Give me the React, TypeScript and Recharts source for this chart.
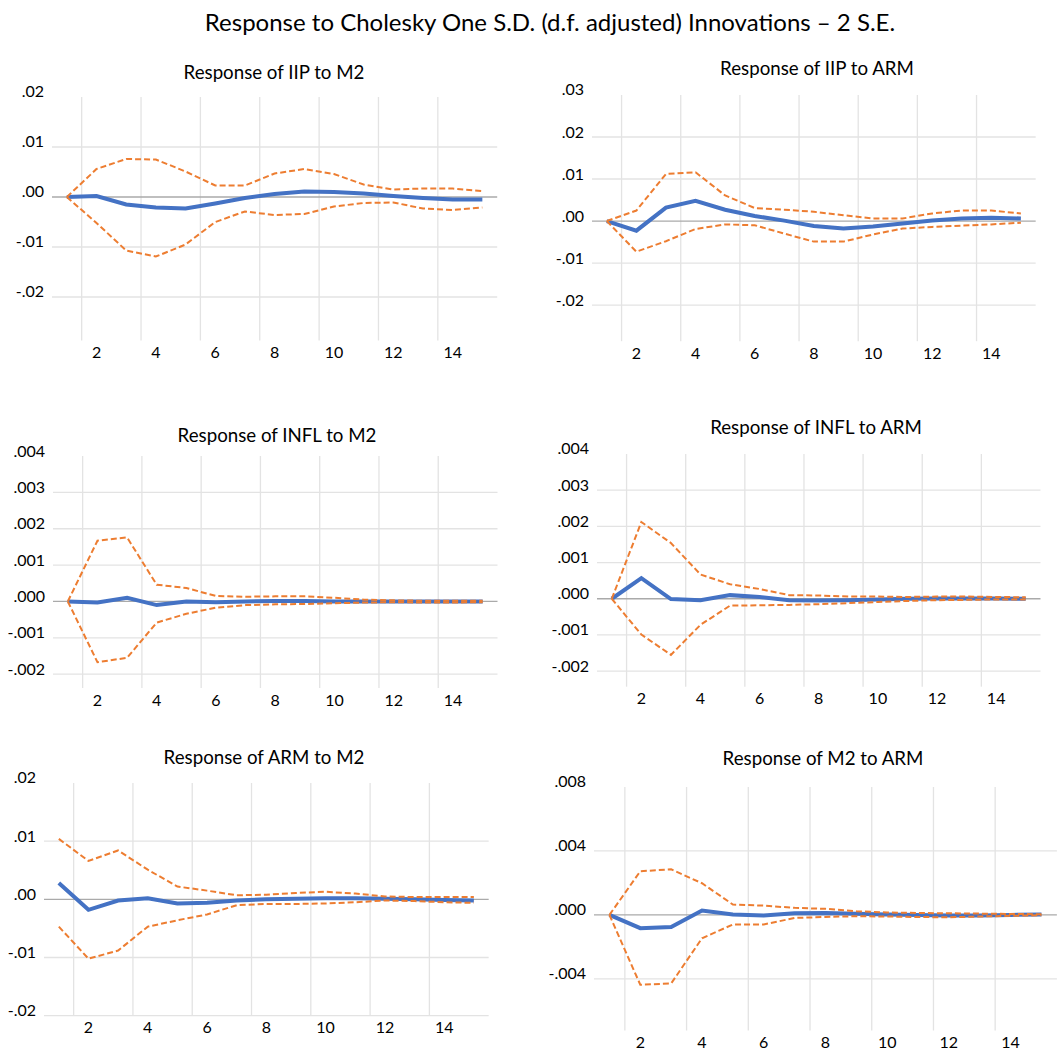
import React from 'react';
import { LineChart, Line, XAxis, YAxis, ReferenceLine } from 'recharts';

// forecast horizon (periods after the shock)
const periods = [1, 2, 3, 4, 5, 6, 7, 8, 9, 10, 11, 12, 13, 14, 15];
const xTicks = [2, 4, 6, 8, 10, 12, 14];

// IIP to M2
const iipM2Resp = [0, 0.0002, -0.0015, -0.0021, -0.0023, -0.0013, -0.0002, 0.0006, 0.0011, 0.001, 0.0007, 0.0002, -0.0002, -0.0005, -0.0005];
const iipM2Upper = [0, 0.0056, 0.0076, 0.0075, 0.0051, 0.0023, 0.0023, 0.0047, 0.0056, 0.0046, 0.0025, 0.0015, 0.0017, 0.0017, 0.0012];
const iipM2Lower = [0, -0.0052, -0.0107, -0.0119, -0.0095, -0.005, -0.0029, -0.0036, -0.0034, -0.0019, -0.0012, -0.0011, -0.0023, -0.0026, -0.0021];

// IIP to ARM
const iipArmResp = [0, -0.0023, 0.0032, 0.0048, 0.0027, 0.0012, 0.0001, -0.0012, -0.0018, -0.0013, -0.0006, 0.0001, 0.0006, 0.0008, 0.0006];
const iipArmUpper = [0, 0.0025, 0.0112, 0.0116, 0.0061, 0.0031, 0.0027, 0.0022, 0.0014, 0.0006, 0.0006, 0.0018, 0.0025, 0.0025, 0.0018];
const iipArmLower = [0, -0.0073, -0.0048, -0.0019, -0.0008, -0.001, -0.003, -0.0049, -0.0049, -0.0032, -0.0018, -0.0014, -0.0011, -0.0008, -0.0004];

// INFL to M2
const inflM2Resp = [0, -0.00003, 0.0001, -0.0001, 0, -0.00002, 0, 0.00001, 0.00001, 0, 0, 0, 0, 0, 0];
const inflM2Upper = [0, 0.00167, 0.00176, 0.00046, 0.00037, 0.00015, 0.00013, 0.00014, 0.00014, 0.0001, 0.00005, 0.00003, 0.00002, 0.00002, 0.00002];
const inflM2Lower = [0, -0.00167, -0.00155, -0.00058, -0.00034, -0.00017, -0.0001, -0.00008, -0.00007, -0.00005, -0.00003, -0.00002, -0.00003, -0.00003, -0.00002];

// INFL to ARM
const inflArmResp = [0, 0.00057, -0.00001, -0.00004, 0.0001, 0.00005, -0.00004, -0.00005, -0.00004, -0.00002, 0, 0.00001, 0.00001, 0.00001, 0];
const inflArmUpper = [0, 0.00212, 0.00154, 0.00067, 0.0004, 0.00027, 0.0001, 0.00009, 0.00006, 0.00006, 0.00005, 0.00006, 0.00006, 0.00005, 0.00004];
const inflArmLower = [0, -0.00099, -0.00155, -0.00072, -0.00019, -0.00018, -0.00017, -0.00015, -0.00012, -0.00009, -0.00006, -0.00004, -0.00003, -0.00002, -0.00002];

// ARM to M2
const armM2Resp = [0.0028, -0.0018, -0.0002, 0.0002, -0.0007, -0.0006, -0.0002, 0, 0.0001, 0.0002, 0.0002, 0.0001, 0, -0.0001, -0.0002];
const armM2Upper = [0.0104, 0.0066, 0.0084, 0.0051, 0.0022, 0.0015, 0.0007, 0.0008, 0.0011, 0.0013, 0.001, 0.0005, 0.0004, 0.0004, 0.0004];
const armM2Lower = [-0.0047, -0.0102, -0.0088, -0.0047, -0.0036, -0.0026, -0.001, -0.0008, -0.0008, -0.0007, -0.0005, -0.0002, -0.0003, -0.0005, -0.0006];

// M2 to ARM
const m2ArmResp = [0, -0.00083, -0.00075, 0.00027, 0.00002, -0.00004, 0.0001, 0.00012, 0.00008, 0.00002, 0, -0.00004, -0.00004, 0, 0.00002];
const m2ArmUpper = [0, 0.00273, 0.00285, 0.00198, 0.00065, 0.00058, 0.00044, 0.00038, 0.00023, 0.00015, 0.00012, 0.0001, 0.00008, 0.00006, 0.00004];
const m2ArmLower = [0, -0.00437, -0.00429, -0.00146, -0.0006, -0.0006, -0.00019, -0.00013, -0.00008, -0.0001, -0.00013, -0.00015, -0.0001, -0.00006, -0.00002];

const BLUE = '#4472C4';
const ORANGE = '#ED7D31';
const FONT = 'Lato, "Open Sans", sans-serif';
const INK = '#000';

const ML = 60, MT = 20, MR = 10, MB = 30;

const panels = [
  { title: 'Response of IIP to M2', tx: 274, ty: 72, plot: [51.8, 96.5, 497, 340], domain: [-0.0287, 0.02], yTicks: [-0.02, -0.01, 0, 0.01, 0.02], digits: 2, resp: iipM2Resp, upper: iipM2Upper, lower: iipM2Lower },
  { title: 'Response of IIP to ARM', tx: 817, ty: 68, plot: [592.3, 94.5, 1036, 340.7], domain: [-0.0286, 0.03], yTicks: [-0.02, -0.01, 0, 0.01, 0.02, 0.03], digits: 2, resp: iipArmResp, upper: iipArmUpper, lower: iipArmLower },
  { title: 'Response of INFL to M2', tx: 277, ty: 435, plot: [52.8, 456.3, 497.3, 688.3], domain: [-0.00238, 0.004], yTicks: [-0.002, -0.001, 0, 0.001, 0.002, 0.003, 0.004], digits: 3, resp: inflM2Resp, upper: inflM2Upper, lower: inflM2Lower },
  { title: 'Response of INFL to ARM', tx: 816, ty: 427, plot: [596.5, 454, 1040, 686.7], domain: [-0.00243, 0.004], yTicks: [-0.002, -0.001, 0, 0.001, 0.002, 0.003, 0.004], digits: 3, resp: inflArmResp, upper: inflArmUpper, lower: inflArmLower },
  { title: 'Response of ARM to M2', tx: 264, ty: 757, plot: [44, 783.3, 488.7, 1016], domain: [-0.02, 0.02], yTicks: [-0.02, -0.01, 0, 0.01, 0.02], digits: 2, resp: armM2Resp, upper: armM2Upper, lower: armM2Lower },
  { title: 'Response of M2 to ARM', tx: 823, ty: 758, plot: [593.5, 786.5, 1056.4, 1030], domain: [-0.00723, 0.008], yTicks: [-0.004, 0, 0.004, 0.008], digits: 3, resp: m2ArmResp, upper: m2ArmUpper, lower: m2ArmLower },
];

const fmt = (v: number, d: number) => v.toFixed(d).replace('0.', '.');

function Panel({ p }: { p: any }) {
  const [l, t, r, b] = p.plot;
  const w = r - l + ML + MR;
  const h = b - t + MT + MB;
  const data = periods.map((x, i) => ({ x, resp: p.resp[i], upper: p.upper[i], lower: p.lower[i] }));
  // vertical grid sits on category boundaries in front of each labelled period
  const vGrid = xTicks.map((x) => x - 0.5);
  const hGrid = p.yTicks.filter((v: number) => v !== 0 && v !== p.domain[1]);

  return (
    <>
      <div style={{ position: 'absolute', left: p.tx, top: p.ty, transform: 'translate(-50%, -50%)', whiteSpace: 'nowrap', fontFamily: FONT, fontSize: 18.7, color: INK }}>
        {p.title}
      </div>
      <div style={{ position: 'absolute', left: l - ML, top: t - MT }}>
        <LineChart width={w} height={h} data={data} margin={{ top: MT, left: 0, right: MR, bottom: 0 }}>
          <XAxis
            dataKey="x"
            type="number"
            domain={[0.5, 15.5]}
            ticks={xTicks}
            height={MB}
            axisLine={false}
            tickLine={false}
            interval={0}
            tick={(props: any) => (
              <text x={props.x} y={MT + (b - t) + 11} textAnchor="middle" dominantBaseline="central" fontFamily={FONT} fontSize={16} fill={INK}>
                {props.payload.value}
              </text>
            )}
          />
          <YAxis
            type="number"
            domain={p.domain}
            ticks={p.yTicks}
            allowDataOverflow
            width={ML}
            axisLine={false}
            tickLine={false}
            interval={0}
            tick={(props: any) => (
              <text x={ML - 8} y={props.y - 6} textAnchor="end" dominantBaseline="central" fontFamily={FONT} fontSize={16} fill={INK}>
                {fmt(props.payload.value, p.digits)}
              </text>
            )}
          />
          {vGrid.map((x: number) => (
            <ReferenceLine key={'v' + x} x={x} stroke="#e3e3e3" strokeWidth={1.3} />
          ))}
          {hGrid.map((y: number) => (
            <ReferenceLine key={'h' + y} y={y} stroke="#e3e3e3" strokeWidth={1.3} />
          ))}
          <ReferenceLine y={0} stroke="#aaaaaa" strokeWidth={1.3} />
          <Line dataKey="resp" stroke={BLUE} strokeWidth={4} dot={false} isAnimationActive={false} />
          <Line dataKey="upper" stroke={ORANGE} strokeWidth={2} strokeDasharray="6 3" dot={false} isAnimationActive={false} />
          <Line dataKey="lower" stroke={ORANGE} strokeWidth={2} strokeDasharray="6 3" dot={false} isAnimationActive={false} />
        </LineChart>
      </div>
    </>
  );
}

export default function App() {
  return (
    <div style={{ position: 'absolute', left: 0, top: 0, width: 1062, height: 1050, background: '#fff' }}>
      <div style={{ position: 'absolute', left: 550, top: 21, transform: 'translate(-50%, -50%)', whiteSpace: 'nowrap', fontFamily: FONT, fontSize: 24, color: INK }}>
        Response to Cholesky One S.D. (d.f. adjusted) Innovations – 2 S.E.
      </div>
      {panels.map((p) => (
        <Panel key={p.title} p={p} />
      ))}
    </div>
  );
}
